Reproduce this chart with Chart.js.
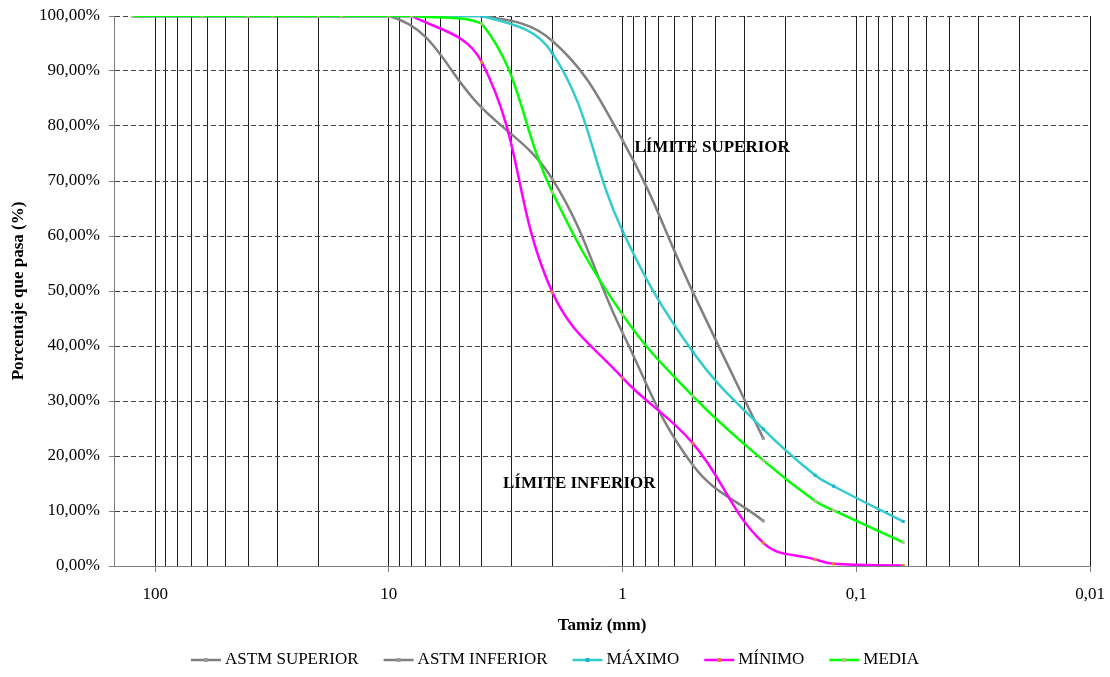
<!DOCTYPE html>
<html>
<head>
<meta charset="utf-8">
<title>Curva granulométrica</title>
<script src="https://cdn.jsdelivr.net/npm/chart.js@4.4.1/dist/chart.umd.min.js"></script>
<style>
  html, body { margin: 0; padding: 0; background: #fff; }
  #wrap { width: 1110px; height: 677px; }
</style>
</head>
<body>
<div id="wrap"><canvas id="granulometria" width="1110" height="677"></canvas></div>
<script>
const fontFamily = "'Liberation Serif', 'Times New Roman', serif";
const textColor = "#000";
const astmColor = "#808080";
const maxColor = "#33CCCC";
const minColor = "#FF00FF";
const mediaColor = "#00FF00";

// ===== Data =====
// sieve openings (mm)
const sieves = [125, 63, 40, 31.5, 20, 16, 10, 8, 4, 2, 1, 0.5, 0.25, 0.15, 0.125, 0.063];
const maximo = [100, 100, 100, 100, 100, 100, 100, 100, 100, 93.3, 60.9, 38.9, 24.9, 16.5, 14.5, 8.1];
const minimo = [100, 100, 100, 100, 100, 100, 100, 100, 91.6, 49.8, 34.2, 22.3, 4.2, 1.2, 0.4, 0.1];
const media = [100, 100, 100, 100, 100, 100, 100, 100, 98.6, 68.0, 45.7, 30.9, 19.2, 11.8, 10.1, 4.3];

// ASTM limits
const astmSieves = [125, 10, 4, 2, 1, 0.5, 0.25];
const astmSuperior = [100, 100, 100, 95.5, 77.4, 49.8, 23.2];
const astmInferior = [100, 100, 83.3, 70.4, 42.4, 18.3, 8.2];

// labelled decades on the x axis
const decadeValues = [100, 10, 1, 0.1, 0.01];
const decadeLabels = ["100", "10", "1", "0,1", "0,01"];

// text notes inside the plot
const notes = [
  { text: "LÍMITE SUPERIOR", x: 0.89, y: 76 },
  { text: "LÍMITE INFERIOR", x: 3.25, y: 15 },
];

const xMin = 0.01;
const xMax = 150;

function pairs(xs, ys) {
  return xs.map((x, i) => ({ x: x, y: ys[i] }));
}

// every 1..9 x 10^k inside the axis range -> vertical grid lines
const gridValues = [];
[0.01, 0.1, 1, 10, 100].forEach((d) => {
  for (let m = 1; m <= 9; m++) {
    const v = Number((m * d).toPrecision(3));
    if (v >= xMin && v <= xMax) gridValues.push(v);
  }
});

function decadeLabel(v) {
  const i = decadeValues.findIndex((d) => Math.abs(d - v) < d * 1e-6);
  return i >= 0 ? decadeLabels[i] : "";
}

function lineDataset(label, xs, ys, color, pointColor, order) {
  return {
    label: label,
    data: pairs(xs, ys),
    borderColor: color,
    backgroundColor: color,
    borderWidth: 2.5,
    pointStyle: "rect",
    pointRadius: 2.2,
    pointBorderWidth: 0,
    pointBackgroundColor: pointColor,
    tension: 0.4,
    fill: false,
    order: order,
  };
}

// notes drawn under the grid lines
const notesPlugin = {
  id: "notes",
  beforeDraw(chart) {
    const { ctx, scales } = chart;
    ctx.save();
    ctx.font = "bold 17px " + fontFamily;
    ctx.fillStyle = textColor;
    ctx.textAlign = "left";
    ctx.textBaseline = "middle";
    notes.forEach((n) => {
      ctx.fillText(n.text, scales.x.getPixelForValue(n.x), scales.y.getPixelForValue(n.y));
    });
    ctx.restore();
  },
};

// legend: line sample with marker, like the spreadsheet one
const legendPlugin = {
  id: "lineLegend",
  afterDraw(chart) {
    const ctx = chart.ctx;
    const lineLen = 30;
    const gap = 4;
    const spacing = 25;
    ctx.save();
    ctx.font = "17px " + fontFamily;
    const items = chart.data.datasets.map((ds) => ({ ds: ds, w: ctx.measureText(ds.label).width }));
    const total = items.reduce((s, it) => s + lineLen + gap + it.w, 0) + spacing * (items.length - 1);
    let x = chart.width / 2 - total / 2;
    const y = chart.height - 17;
    items.forEach((it) => {
      ctx.strokeStyle = it.ds.borderColor;
      ctx.lineWidth = it.ds.borderWidth;
      ctx.beginPath();
      ctx.moveTo(x, y);
      ctx.lineTo(x + lineLen, y);
      ctx.stroke();
      ctx.fillStyle = it.ds.pointBackgroundColor;
      ctx.fillRect(x + lineLen / 2 - 2, y - 2, 4, 4);
      ctx.fillStyle = textColor;
      ctx.textAlign = "left";
      ctx.textBaseline = "middle";
      ctx.fillText(it.ds.label, x + lineLen + gap, y);
      x += lineLen + gap + it.w + spacing;
    });
    ctx.restore();
  },
};

new Chart(document.getElementById("granulometria"), {
  type: "line",
  data: {
    datasets: [
      lineDataset("ASTM SUPERIOR", astmSieves, astmSuperior, astmColor, "#9a9a9a", 5),
      lineDataset("ASTM INFERIOR", astmSieves, astmInferior, astmColor, "#9a9a9a", 4),
      lineDataset("MÁXIMO", sieves, maximo, maxColor, "#1FB5D0", 3),
      lineDataset("MÍNIMO", sieves, minimo, minColor, "#E8803A", 2),
      lineDataset("MEDIA", sieves, media, mediaColor, "#B9C28E", 1),
    ],
  },
  options: {
    responsive: false,
    animation: false,
    devicePixelRatio: 1,
    layout: { padding: { top: 16, right: 20, bottom: 41, left: 0 } },
    plugins: {
      legend: { display: false },
      tooltip: { enabled: false },
    },
    scales: {
      x: {
        type: "logarithmic",
        reverse: true,
        min: xMin,
        max: xMax,
        bounds: "data",
        afterBuildTicks: (s) => {
          s.ticks = gridValues.map((v) => ({ value: v }));
        },
        afterFit: (s) => {
          s.height = 70;
        },
        ticks: {
          autoSkip: false,
          maxRotation: 0,
          color: textColor,
          font: { family: fontFamily, size: 17 },
          padding: 12,
          callback: (v) => decadeLabel(v),
        },
        grid: {
          color: "#1e1e1e",
          lineWidth: 1,
          tickLength: 6,
          tickColor: (c) => (decadeLabel(c.tick.value) ? "#808080" : "rgba(0,0,0,0)"),
        },
        border: { color: "#808080", width: 1 },
        title: {
          display: true,
          text: "Tamiz (mm)",
          color: textColor,
          font: { family: fontFamily, size: 17, weight: "bold" },
          padding: { top: 0, bottom: 0 },
        },
      },
      y: {
        min: 0,
        max: 100,
        afterFit: (s) => {
          s.width = 114;
          s.paddingTop = 0;
          s.paddingBottom = 0;
        },
        ticks: {
          stepSize: 10,
          color: textColor,
          font: { family: fontFamily, size: 17 },
          padding: 9,
          callback: (v) => v.toFixed(2).replace(".", ",") + "%",
        },
        grid: {
          color: "#404040",
          lineWidth: 1,
          tickLength: 5,
          tickColor: "#808080",
        },
        border: { color: "#808080", width: 1, dash: [5, 3] },
        title: {
          display: true,
          text: "Porcentaje que pasa (%)",
          color: textColor,
          font: { family: fontFamily, size: 17, weight: "bold" },
          padding: { top: 8, bottom: 0 },
        },
      },
    },
  },
  plugins: [notesPlugin, legendPlugin],
});
</script>
</body>
</html>
